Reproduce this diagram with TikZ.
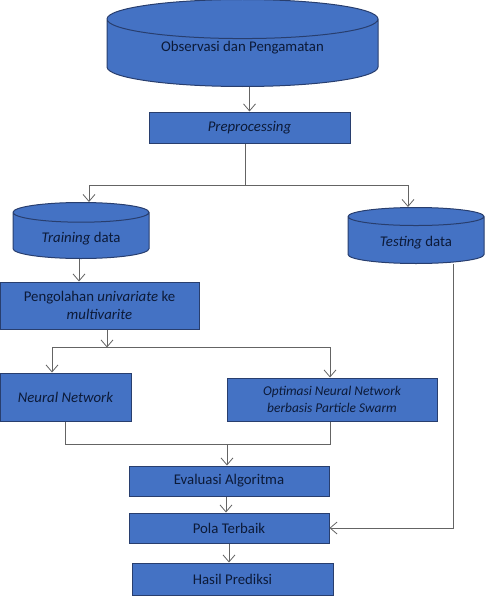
\documentclass[tikz,border=0pt]{standalone}
\usepackage{fontspec}
\setmainfont{Carlito}
\usetikzlibrary{shapes.geometric,arrows.meta}
\definecolor{flowBlue}{RGB}{68,114,196}
\definecolor{flowEdge}{RGB}{40,62,110}
\definecolor{flowText}{RGB}{12,26,56}
\definecolor{flowLine}{RGB}{100,100,100}
\begin{document}
\begin{tikzpicture}[x=1pt,y=-1pt,
  procbox/.style={draw=flowEdge, line width=1pt, fill=flowBlue, text=flowText, inner sep=0pt, align=center, font=\fontsize{14.8}{18}\selectfont},
  datadrum/.style={cylinder, shape border rotate=90, draw=flowEdge, line width=1pt, fill=flowBlue, text=flowText, inner sep=0pt, text height=16pt, text depth=3pt, font=\fontsize{14.8}{18}\selectfont},
  line/.style={draw=flowLine, line width=0.8pt},
  flow/.style={line, -{Straight Barb[length=7pt,width=12pt]}}]
\useasboundingbox (0,0) rectangle (492,602);
% data sources
\node[datadrum, minimum width=271pt, minimum height=87pt, aspect=0.24, text height=10pt, text depth=14pt, anchor=bottom] (obs) at (242.5,87) {Observasi dan Pengamatan};
\node[procbox, minimum width=201pt, minimum height=31pt] (prep) at (249.5,127.5) {\textit{Preprocessing}};
\node[datadrum, minimum width=136pt, minimum height=56pt, aspect=0.25, anchor=top] (train) at (81,202) {\textit{Training} data};
\node[datadrum, minimum width=136pt, minimum height=56pt, aspect=0.25, anchor=top] (test) at (416,207) {\textit{Testing} data};
% processing
\node[procbox, minimum width=199pt, minimum height=47pt] (peng) at (99.5,305.5) {Pengolahan \textit{univariate} ke\\ \textit{multivarite}};
\node[procbox, minimum width=131pt, minimum height=48pt] (nn) at (65.5,397) {\textit{Neural Network}};
\node[procbox, minimum width=210pt, minimum height=43pt, font=\fontsize{13.4}{17}\selectfont\itshape] (opt) at (332,399.5) {Optimasi Neural Network\\berbasis Particle Swarm};
\node[procbox, minimum width=200pt, minimum height=30pt] (eval) at (229,481) {Evaluasi Algoritma};
\node[procbox, minimum width=200pt, minimum height=30pt] (pola) at (229,528) {Pola Terbaik};
\node[procbox, minimum width=201pt, minimum height=32pt] (hasil) at (232.5,579) {Hasil Prediksi};
% connectors
\draw[flow] (prep.north |- obs.bottom) -- (prep.north);
\draw[line] ([xshift=-4.5pt]prep.south) -- ++(0,42) coordinate (split);
\draw[flow] (split) -| ([xshift=8pt]train.top);
\draw[flow] (split) -| ([xshift=-8pt]test.top);
\draw[flow] ([xshift=-2pt]train.bottom) -- ([xshift=-2pt]train.bottom |- peng.north);
\draw[flow] ([xshift=7.5pt]peng.south) -- ++(0,18) coordinate (fork);
\draw[flow] (fork) -| ([xshift=-13.5pt]nn.north);
\draw[flow] (fork) -| ([xshift=-2pt]opt.north);
\draw[line] (nn.south) |- ([xshift=-2pt]opt.south |- 0,444) coordinate (joinR) -- ([xshift=-2pt]opt.south);
\coordinate (merge) at (227,444);
\draw[flow] (merge) -- (merge |- eval.north);
\draw[flow] ([xshift=-3pt]eval.south) -- ([xshift=-3pt]pola.north);
\draw[flow] (pola.south) -- (pola.south |- hasil.north);
\draw[flow] ([xshift=37pt]test.bottom) |- (pola.east);
\end{tikzpicture}
\end{document}
